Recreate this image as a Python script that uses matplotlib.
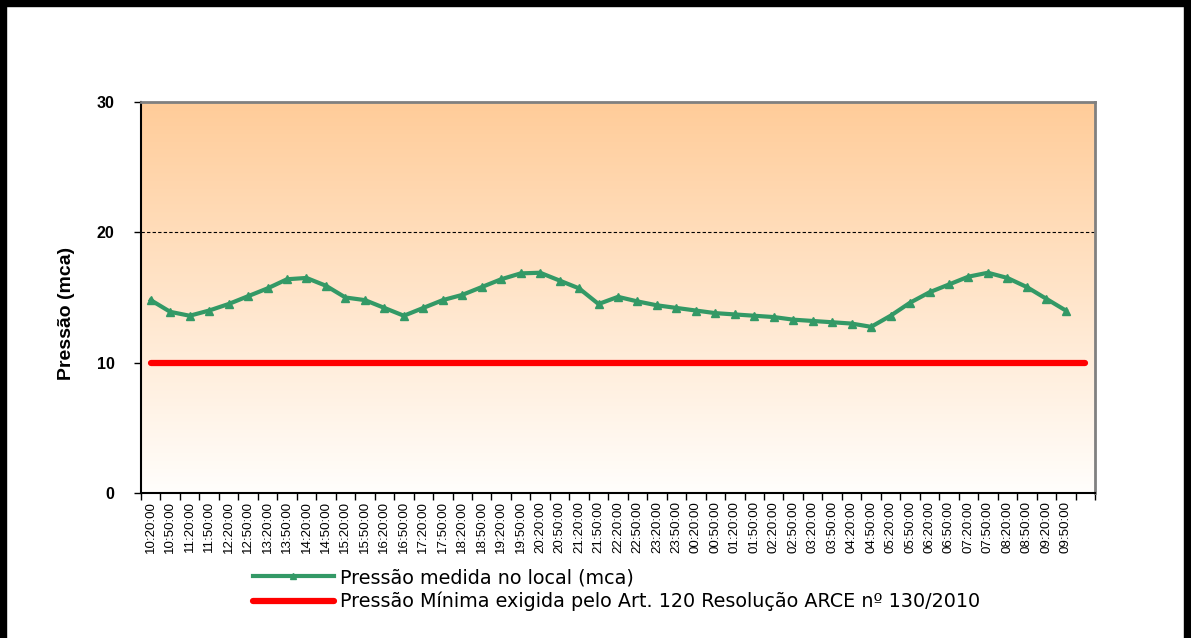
import numpy as np
import matplotlib
matplotlib.use("Agg")
import matplotlib.pyplot as plt
from matplotlib.patches import Rectangle
from matplotlib.lines import Line2D

# rótulos do eixo x (horários)
horarios = ["10:20:00", "10:50:00", "11:20:00", "11:50:00", "12:20:00", "12:50:00",
            "13:20:00", "13:50:00", "14:20:00", "14:50:00", "15:20:00", "15:50:00",
            "16:20:00", "16:50:00", "17:20:00", "17:50:00", "18:20:00", "18:50:00",
            "19:20:00", "19:50:00", "20:20:00", "20:50:00", "21:20:00", "21:50:00",
            "22:20:00", "22:50:00", "23:20:00", "23:50:00", "00:20:00", "00:50:00",
            "01:20:00", "01:50:00", "02:20:00", "02:50:00", "03:20:00", "03:50:00",
            "04:20:00", "04:50:00", "05:20:00", "05:50:00", "06:20:00", "06:50:00",
            "07:20:00", "07:50:00", "08:20:00", "08:50:00", "09:20:00", "09:50:00", ""]

# pressão medida (mca)
pressao = [14.8, 13.9, 13.6, 14.0, 14.5, 15.1, 15.7, 16.4, 16.5, 15.9,
           15.0, 14.8, 14.2, 13.6, 14.2, 14.8, 15.2, 15.8, 16.4, 16.85,
           16.9, 16.3, 15.7, 14.5, 15.05, 14.7, 14.4, 14.2, 14.0, 13.8,
           13.7, 13.6, 13.5, 13.3, 13.2, 13.1, 13.0, 12.75, 13.6, 14.6,
           15.4, 16.0, 16.6, 16.9, 16.5, 15.8, 14.9, 14.0]

# pressão mínima exigida
pressao_min = [10] * 49

W, H = 1191, 638
fig = plt.figure(figsize=(W / 100, H / 100), dpi=100)
ax = fig.add_axes([141 / W, (H - 493) / H, 954 / W, 391 / H])

# fundo em degradê (pêssego -> branco)
topo = np.array([255, 204, 153]) / 255
base = np.array([255, 254, 252]) / 255
t = np.linspace(0, 1, 256)[:, None]
grad = (topo * (1 - t) + base * t)[:, None, :]
ax.imshow(grad, extent=[-0.5, 48.5, 0, 30], origin="upper", aspect="auto", zorder=0)

x = np.arange(len(pressao))
xr = np.arange(len(pressao_min))

ax.axhline(20, color="black", lw=0.8, ls=(0, (3, 2)), zorder=1)
ax.plot(xr, pressao_min, color="#FF0000", lw=4.5, solid_capstyle="round", zorder=2)
ax.plot(x, pressao, color="#339966", lw=3, marker="^", ms=6, zorder=3)

ax.set_xlim(-0.5, 48.5)
ax.set_ylim(0, 30)
ax.set_yticks([0, 10, 20, 30])
ax.set_yticklabels(["0", "10", "20", "30"], fontsize=11.5, fontweight="bold",
                   family="Liberation Sans")
ax.tick_params(axis="y", length=5, width=1, pad=14)

ax.set_xticks(np.arange(len(horarios)))
ax.set_xticklabels(horarios, rotation=90, fontsize=9.6, family="Liberation Sans")
ax.set_xticks(np.arange(-0.5, 49, 1), minor=True)
ax.tick_params(axis="x", which="major", length=0, pad=6)
ax.tick_params(axis="x", which="minor", length=5, width=1)

ax.set_ylabel("Pressão (mca)", fontsize=14, fontweight="bold", family="Liberation Sans")
ax.yaxis.set_label_coords(-0.069, 0.46)

for s in ["left", "bottom"]:
    ax.spines[s].set_color("black")
    ax.spines[s].set_linewidth(1.5)
for s in ["top", "right"]:
    ax.spines[s].set_color("#808080")
    ax.spines[s].set_linewidth(2)

# legenda
h1 = Line2D([], [], color="#339966", lw=3, marker="^", ms=5, markevery=[1])
h1.set_data([0, 1, 2], [0, 0, 0])
h2 = Line2D([], [], color="#FF0000", lw=4.5, solid_capstyle="round")
leg = fig.legend([h1, h2],
                 ["Pressão medida no local (mca)",
                  "Pressão Mínima exigida pelo Art. 120 Resolução ARCE nº 130/2010"],
                 loc="upper left", bbox_to_anchor=(253 / W, 1 - 568 / H),
                 frameon=False, handlelength=4.2, handletextpad=0.33,
                 borderpad=0, borderaxespad=0, labelspacing=0.25,
                 prop={"family": "DejaVu Sans", "size": 13.8})

# moldura preta
fig.add_artist(Rectangle((0, 0), 6 / W, 1, transform=fig.transFigure, color="black"))
fig.add_artist(Rectangle((0, 1 - 6 / H), 1, 6 / H, transform=fig.transFigure, color="black"))
fig.add_artist(Rectangle((1 - 7 / W, 0), 7 / W, 1, transform=fig.transFigure, color="black"))

fig.savefig("out.png", dpi=100)
